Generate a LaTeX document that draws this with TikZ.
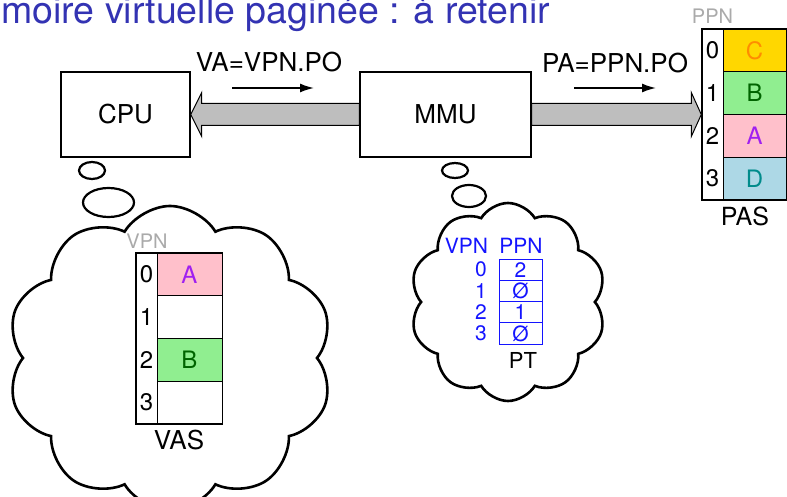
\documentclass[tikz,border=0pt]{standalone}
\usepackage{fontspec}
\setmainfont{TeX Gyre Heros}
\usetikzlibrary{shapes.symbols,shapes.geometric,arrows.meta}

\definecolor{titleblue}{RGB}{51,51,179}
\definecolor{busgray}{RGB}{190,190,190}
\definecolor{labelgray}{RGB}{170,170,170}
\definecolor{ptblue}{RGB}{20,20,255}
\definecolor{pagegold}{RGB}{255,215,0}
\definecolor{pagegreen}{RGB}{144,238,144}
\definecolor{pagepink}{RGB}{255,192,203}
\definecolor{pageblue}{RGB}{173,216,230}
\definecolor{letterorange}{RGB}{255,140,0}
\definecolor{lettergreen}{RGB}{0,100,0}
\definecolor{letterpurple}{RGB}{160,32,240}
\definecolor{letterteal}{RGB}{0,139,139}

\newcommand{\px}[1]{\fontsize{#1}{#1}\selectfont}

\tikzset{
  unit/.style={draw,line width=1.4pt,fill=white,minimum width=129pt,minimum height=85pt,inner sep=0pt},
  bus/.style={draw,line width=1pt,fill=busgray},
  cell/.style={draw,line width=1pt,minimum width=64pt,minimum height=42.75pt,inner sep=0pt},
  idx/.style={inner sep=0pt},
  thought/.style={draw,line width=2.2pt,ellipse,inner sep=0pt},
  bubble/.style={cloud,draw,line width=2.6pt,fill=white,cloud puffs=10,cloud puff arc=118,inner sep=0pt},
  ptcell/.style={draw=ptblue,line width=0.8pt,minimum width=43pt,minimum height=21.25pt,inner sep=0pt,text=ptblue},
  flow/.style={-{Latex[length=14pt,width=9pt]},line width=1.6pt}
}

\begin{document}
\begin{tikzpicture}[x=1pt,y=-1pt]
  \tikzstyle{every node}=[font=\px{24}]
 \useasboundingbox (0,0) rectangle (787,497);

 % title, cut at the left edge
 \node[anchor=base west,inner sep=0pt,text=titleblue,font=\px{37.5}] (title) at (1,23.5) {moire virtuelle paginée : à retenir};

 % thought bubbles (drawn first)
 \node[bubble,minimum width=326pt,minimum height=304pt] (cpu-cloud) at (170,358) {};
 \node[thought,minimum width=26pt,minimum height=17pt] (cpu-t1) at (92,170.5) {};
 \node[thought,minimum width=51pt,minimum height=29pt] (cpu-t2) at (108.5,202.5) {};
 \node[bubble,minimum width=196pt,minimum height=198pt] (mmu-cloud) at (508,302) {};
 \node[thought,minimum width=26pt,minimum height=15pt] (mmu-t1) at (455,170.5) {};
 \node[thought,minimum width=34pt,minimum height=22pt] (mmu-t2) at (469,196) {};

 % units
 \node[unit,font=\px{26}] (cpu) at (125.5,114.5) {CPU};
 \node[unit,font=\px{26},minimum width=171pt] (mmu) at (445.5,114.5) {MMU};

 % physical address space
 \node[draw,line width=1.4pt,minimum width=84pt,minimum height=171pt,inner sep=0pt] (pas) at (744,114.5) {};
 \node[cell,fill=pagegold,text=letterorange,minimum width=63pt] (pas0) at (754.5,50.4) {C};
 \node[cell,fill=pagegreen,text=lettergreen,minimum width=63pt] (pas1) at (754.5,93.1) {B};
 \node[cell,fill=pagepink,text=letterpurple,minimum width=63pt] (pas2) at (754.5,135.9) {A};
 \node[cell,fill=pageblue,text=letterteal,minimum width=63pt] (pas3) at (754.5,178.6) {D};
 \node[idx] (pn0) at (712.5,50.4) {0};
 \node[idx] (pn1) at (712.5,93.1) {1};
 \node[idx] (pn2) at (712.5,135.9) {2};
 \node[idx] (pn3) at (712.5,178.6) {3};
 \node[text=labelgray,font=\px{20}] (ppn) at (712.5,16) {PPN};
 \node[font=\px{25}] (pas-label) at (745,216) {PAS};

 % buses
 \draw[bus] (cpu.east) -- ++(11,-22) -- ++(0,11) -- ([yshift=11pt]mmu.west) -- ([yshift=-11pt]mmu.west)
   -- ([xshift=11pt,yshift=-11pt]cpu.east) -- ++(0,11) -- cycle;
 \draw[bus] (pas.west) -- ++(-10,-22) -- ++(0,11) -- ([yshift=11pt]mmu.east) -- ([yshift=-11pt]mmu.east)
   -- ([xshift=-10pt,yshift=-11pt]pas.west) -- ++(0,11) -- cycle;

 % addresses
 \node[font=\px{26}] (va) at (269,62) {VA=VPN.PO};
 \node[font=\px{26}] (pa) at (615,63) {PA=PPN.PO};
 \coordinate (va-from) at (232,88);
 \coordinate (va-to) at (314,88);
 \coordinate (pa-from) at (574,88);
 \coordinate (pa-to) at (656,88);
 \draw [flow] (va-from) -- (va-to);
 \draw [flow] (pa-from) -- (pa-to);

 % virtual address space
 \node[draw,line width=1.4pt,minimum width=86pt,minimum height=171pt,inner sep=0pt] (vas) at (179,338.5) {};
 \node[cell,fill=pagepink,text=letterpurple,minimum width=65pt] (vas0) at (189.5,274.4) {A};
 \node[cell,fill=white,minimum width=65pt] (vas1) at (189.5,317.1) {};
 \node[cell,fill=pagegreen,text=lettergreen,minimum width=65pt] (vas2) at (189.5,359.9) {B};
 \node[cell,fill=white,minimum width=65pt] (vas3) at (189.5,402.6) {};
 \node[idx] (vn0) at (146.5,274.4) {0};
 \node[idx] (vn1) at (146.5,317.1) {1};
 \node[idx] (vn2) at (146.5,359.9) {2};
 \node[idx] (vn3) at (146.5,402.6) {3};
 \node[text=labelgray,font=\px{20}] (vpn) at (147,241) {VPN};
 \node[font=\px{26}] (vas-label) at (179,440) {VAS};

 % page table
 \node[text=ptblue,font=\px{21}] (pt-vpn) at (466.5,246) {VPN};
 \node[text=ptblue,font=\px{21}] (pt-ppn) at (521,246) {PPN};
 \node[ptcell,font=\px{21}] (pt0) at (520.5,269.6) {2};
 \node[ptcell,font=\px{21}] (pt1) at (520.5,290.9) {Ø};
 \node[ptcell,font=\px{21}] (pt2) at (520.5,312.1) {1};
 \node[ptcell,font=\px{21}] (pt3) at (520.5,333.4) {Ø};
 \node[text=ptblue,font=\px{21},inner sep=0pt] (pv0) at (481,269.6) {0};
 \node[text=ptblue,font=\px{21},inner sep=0pt] (pv1) at (481,290.9) {1};
 \node[text=ptblue,font=\px{21},inner sep=0pt] (pv2) at (481,312.1) {2};
 \node[text=ptblue,font=\px{21},inner sep=0pt] (pv3) at (481,333.4) {3};
 \node[font=\px{22}] (pt-label) at (523,360) {PT};

\end{tikzpicture}
\end{document}
